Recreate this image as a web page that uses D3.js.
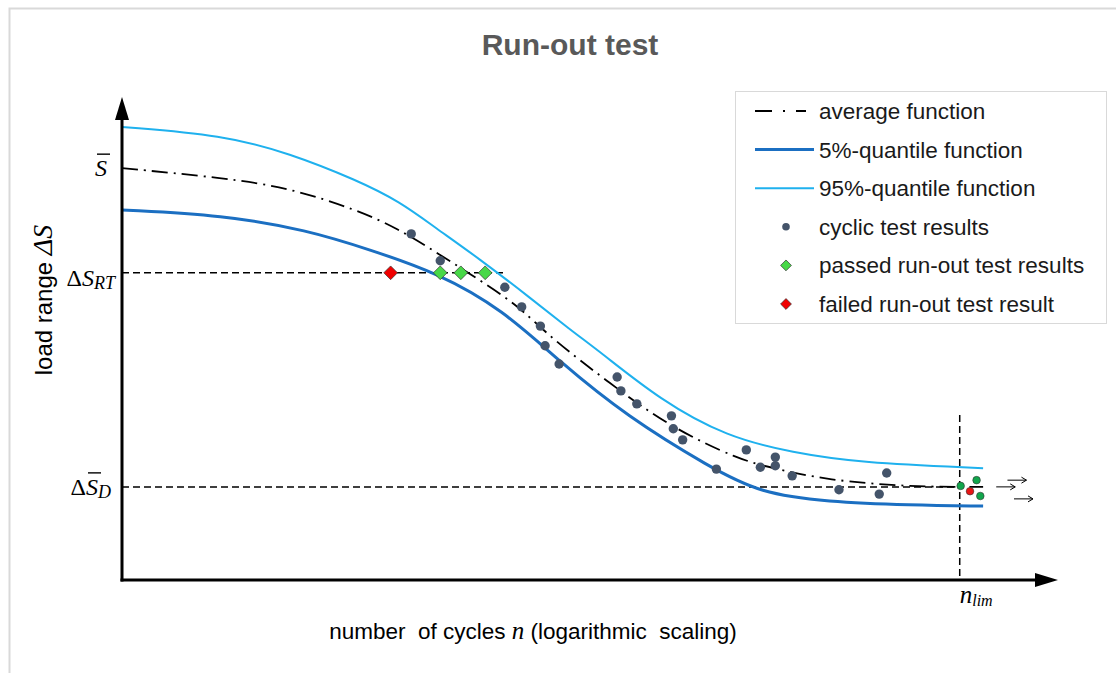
<!DOCTYPE html>
<html>
<head>
<meta charset="utf-8">
<script src="https://cdn.jsdelivr.net/npm/d3@7"></script>
<style>
  html, body { margin: 0; padding: 0; background: #fff; }
  svg { display: block; }
</style>
</head>
<body>
<svg id="chart" width="1116" height="673"></svg>
<script>
// curves (x: position on the log axis 0..100, y: load range 0..100)
const avgX = [0, 10.8, 17.9, 25.1, 29.4, 33.7, 38.2, 42.5, 45.7, 52.1, 58.5, 66.0, 69.6, 75.3, 84.2, 92.0];
const avgY = [85.8, 83.8, 81.7, 77.1, 73.3, 68.1, 62.5, 56.9, 50.6, 41.0, 31.9, 25.0, 23.3, 20.8, 19.4, 19.4];

const q95X = [0, 10.8, 17.9, 25.1, 29.7, 33.4, 38.2, 43.6, 47.9, 51.1, 57.5, 64.6, 71.7, 78.8, 92.0];
const q95Y = [94.4, 92.7, 88.9, 83.3, 78.8, 73.5, 66.9, 58.8, 52.1, 47.5, 37.5, 29.8, 26.5, 24.4, 23.3];

const q05X = [0, 10.8, 19.8, 26.5, 33.7, 40.7, 46.8, 54.0, 62.8, 68.2, 75.3, 84.2, 92.0];
const q05Y = [77.1, 76.0, 72.9, 68.8, 64.0, 56.3, 45.4, 34.0, 23.5, 18.1, 16.3, 15.6, 15.4];

// test results
const cyclicX = [30.9, 34.0, 40.9, 42.7, 44.7, 45.2, 46.7, 52.9, 53.3, 55.0, 58.7, 58.9, 59.9, 63.5, 66.7, 68.2, 69.8, 69.8, 71.6, 76.6, 80.9, 81.7];
const cyclicY = [72.1, 66.5, 61.0, 56.9, 52.9, 48.8, 45.0, 42.3, 39.4, 36.7, 34.2, 31.5, 29.2, 23.1, 27.1, 23.5, 25.6, 23.8, 21.7, 18.8, 17.9, 22.3];

const passedX = [34.0, 36.2, 38.8];
const failedX = [28.7];

const runoutX = [89.6, 91.3, 91.7, 90.6];
const runoutY = [19.6, 20.8, 17.5, 18.5];
const runoutOk = [true, true, true, false];

const arrowX = [93.4, 94.6, 95.3];
const arrowY = [19.4, 20.8, 16.9];

// characteristic levels
const sBar = 85.8, sRT = 64.0, sD = 19.4, nLim = 89.5;

const legendLabels = ["average function", "5%-quantile function", "95%-quantile function",
  "cyclic test results", "passed run-out test results", "failed run-out test result"];

const C = {
  avg: "#000000", q05: "#1b6fc2", q95: "#1fb1ee", dot: "#44546a",
  passed: "#48d848", failed: "#f00000", runOk: "#11a64c", runBad: "#e81515"
};
const SANS = "'Liberation Sans', Arial, sans-serif";
const SERIF = "'Liberation Serif', 'Times New Roman', serif";

const svg = d3.select("#chart");
const x = d3.scaleLinear().domain([0, 100]).range([122, 1058]);
const y = d3.scaleLinear().domain([0, 100]).range([580, 100]);

// outer frame (runs past the right and bottom edges)
svg.append("rect").attr("x", 9.5).attr("y", 8.5).attr("width", 1200).attr("height", 700)
  .attr("fill", "#fff").attr("stroke", "#d9d9d9").attr("stroke-width", 2);

svg.append("text").attr("x", 570).attr("y", 55).attr("text-anchor", "middle")
  .attr("font-family", SANS).attr("font-weight", "bold").attr("font-size", 30)
  .attr("fill", "#595959").text("Run-out test");

const line = d3.line().x(d => x(d[0])).y(d => y(d[1])).curve(d3.curveBasis);
const zip = (a, b) => a.map((v, i) => [v, b[i]]);

// reference lines
const dash = "7,4";
svg.append("line").attr("x1", x(0)).attr("x2", x(41.1)).attr("y1", y(sRT)).attr("y2", y(sRT))
  .attr("stroke", "#000").attr("stroke-width", 1.5).attr("stroke-dasharray", dash);
svg.append("line").attr("x1", x(0)).attr("x2", x(nLim)).attr("y1", y(sD)).attr("y2", y(sD))
  .attr("stroke", "#000").attr("stroke-width", 1.5).attr("stroke-dasharray", dash);
svg.append("line").attr("x1", x(nLim)).attr("x2", x(nLim)).attr("y1", y(34.4)).attr("y2", y(0))
  .attr("stroke", "#000").attr("stroke-width", 1.5).attr("stroke-dasharray", dash);

// curves
svg.append("path").attr("d", line(zip(q95X, q95Y))).attr("fill", "none")
  .attr("stroke", C.q95).attr("stroke-width", 2);
svg.append("path").attr("d", line(zip(q05X, q05Y))).attr("fill", "none")
  .attr("stroke", C.q05).attr("stroke-width", 3);
svg.append("path").attr("d", line(zip(avgX, avgY))).attr("fill", "none")
  .attr("stroke", C.avg).attr("stroke-width", 1.8).attr("stroke-dasharray", "16,6,2,6");

// cyclic test results
svg.selectAll(".cyc").data(zip(cyclicX, cyclicY)).enter().append("circle")
  .attr("class", "cyc").attr("cx", d => x(d[0])).attr("cy", d => y(d[1])).attr("r", 4.7)
  .attr("fill", C.dot);

const diamond = d3.symbol().type(d3.symbolDiamond2).size(120);
svg.selectAll(".pass").data(passedX).enter().append("path")
  .attr("d", diamond).attr("transform", d => `translate(${x(d)},${y(sRT)})`)
  .attr("fill", C.passed).attr("stroke", "#333").attr("stroke-width", 0.7);
svg.selectAll(".fail").data(failedX).enter().append("path")
  .attr("d", diamond).attr("transform", d => `translate(${x(d)},${y(sRT)})`)
  .attr("fill", C.failed).attr("stroke", "#333").attr("stroke-width", 0.7);

// run-out results at n_lim
svg.selectAll(".run").data(runoutX.map((v, i) => [v, runoutY[i], runoutOk[i]])).enter().append("circle")
  .attr("cx", d => x(d[0])).attr("cy", d => y(d[1])).attr("r", 3.8)
  .attr("fill", d => d[2] ? C.runOk : C.runBad).attr("stroke", "#333").attr("stroke-width", 0.6);

svg.selectAll(".arr").data(zip(arrowX, arrowY)).enter().append("path")
  .attr("d", d => {
    const x1 = x(d[0]), x2 = x1 + 19, yy = y(d[1]);
    return `M${x1},${yy}L${x2},${yy}M${x2 - 5},${yy - 3}L${x2},${yy}L${x2 - 5},${yy + 3}`;
  })
  .attr("fill", "none").attr("stroke", "#000").attr("stroke-width", 1);

// axes with arrow heads
const x0 = x(0), y0 = y(0);
svg.append("line").attr("x1", x0).attr("x2", x0).attr("y1", y0 + 1.5).attr("y2", 115)
  .attr("stroke", "#000").attr("stroke-width", 3);
svg.append("path").attr("d", `M${x0 - 7},120L${x0},97L${x0 + 7},120Z`).attr("fill", "#000");
svg.append("line").attr("x1", x0 - 1.5).attr("x2", 1040).attr("y1", y0).attr("y2", y0)
  .attr("stroke", "#000").attr("stroke-width", 3);
svg.append("path").attr("d", `M1035,${y0 - 7}L1058,${y0}L1035,${y0 + 7}Z`).attr("fill", "#000");

// y-axis level labels
function mathLabel(xr, baseline, parts, barIndex) {
  const t = svg.append("text").attr("x", xr).attr("y", baseline).attr("text-anchor", "end")
    .attr("font-family", SERIF).attr("fill", "#000");
  parts.forEach(p => {
    const s = t.append("tspan").text(p.t).attr("font-size", p.size || 24)
      .attr("font-style", p.italic ? "italic" : "normal");
    if (p.dy) s.attr("dy", p.dy);
  });
  if (barIndex !== undefined) {
    const sp = t.selectAll("tspan").nodes()[barIndex];
    const start = sp.getStartPositionOfChar(0);
    svg.append("line").attr("x1", start.x + 2).attr("x2", start.x + 15)
      .attr("y1", baseline - 22).attr("y2", baseline - 22).attr("stroke", "#000").attr("stroke-width", 1.4);
  }
}
mathLabel(107, y(sBar) + 8, [{ t: "S", italic: true }], 0);
mathLabel(115, y(sRT) + 13, [{ t: "Δ" }, { t: "S", italic: true }, { t: "RT", italic: true, size: 18, dy: 3 }]);
mathLabel(111, y(sD) + 8, [{ t: "Δ" }, { t: "S", italic: true }, { t: "D", italic: true, size: 18, dy: 3 }], 1);

// n_lim
const nl = svg.append("text").attr("x", x(nLim)).attr("y", 603).attr("font-family", SERIF)
  .attr("font-style", "italic");
nl.append("tspan").attr("font-size", 25).text("n");
nl.append("tspan").attr("font-size", 16).attr("dy", 3).text("lim");

// axis titles
const xt = svg.append("text").attr("x", 533).attr("y", 639).attr("text-anchor", "middle")
  .attr("font-family", SANS).attr("font-size", 22.5).attr("xml:space", "preserve");
xt.append("tspan").text("number  of cycles ");
xt.append("tspan").attr("font-family", SERIF).attr("font-style", "italic").attr("font-size", 25).text("n");
xt.append("tspan").text(" (logarithmic  scaling)");

const yt = svg.append("text").attr("transform", "translate(52,300) rotate(-90)").attr("text-anchor", "middle")
  .attr("font-family", SANS).attr("font-size", 24).attr("xml:space", "preserve");
yt.append("tspan").text("load range ");
yt.append("tspan").attr("font-family", SERIF).attr("font-style", "italic").attr("font-size", 28).text("ΔS");

// legend
const lg = svg.append("g");
lg.append("rect").attr("x", 735.5).attr("y", 91.5).attr("width", 371).attr("height", 232)
  .attr("fill", "#fff").attr("stroke", "#d9d9d9").attr("stroke-width", 1);
const rowY = i => 111 + i * 38.6;
lg.append("line").attr("x1", 755).attr("x2", 806).attr("y1", rowY(0)).attr("y2", rowY(0))
  .attr("stroke", C.avg).attr("stroke-width", 1.8).attr("stroke-dasharray", "17,11,2,11");
lg.append("line").attr("x1", 755).attr("x2", 814).attr("y1", rowY(1)).attr("y2", rowY(1))
  .attr("stroke", C.q05).attr("stroke-width", 3);
lg.append("line").attr("x1", 755).attr("x2", 814).attr("y1", rowY(2)).attr("y2", rowY(2))
  .attr("stroke", C.q95).attr("stroke-width", 2);
lg.append("circle").attr("cx", 786).attr("cy", rowY(3)).attr("r", 3.8).attr("fill", C.dot);
lg.append("path").attr("d", d3.symbol().type(d3.symbolDiamond2).size(75))
  .attr("transform", `translate(786,${rowY(4)})`).attr("fill", C.passed).attr("stroke", "#333").attr("stroke-width", 0.7);
lg.append("path").attr("d", d3.symbol().type(d3.symbolDiamond2).size(75))
  .attr("transform", `translate(786,${rowY(5)})`).attr("fill", C.failed).attr("stroke", "#333").attr("stroke-width", 0.7);
lg.selectAll(".lt").data(legendLabels).enter().append("text")
  .attr("x", 819).attr("y", (d, i) => rowY(i) + 8).attr("font-family", SANS).attr("font-size", 22.5)
  .attr("fill", "#1a1a1a").text(d => d);
</script>
</body>
</html>
